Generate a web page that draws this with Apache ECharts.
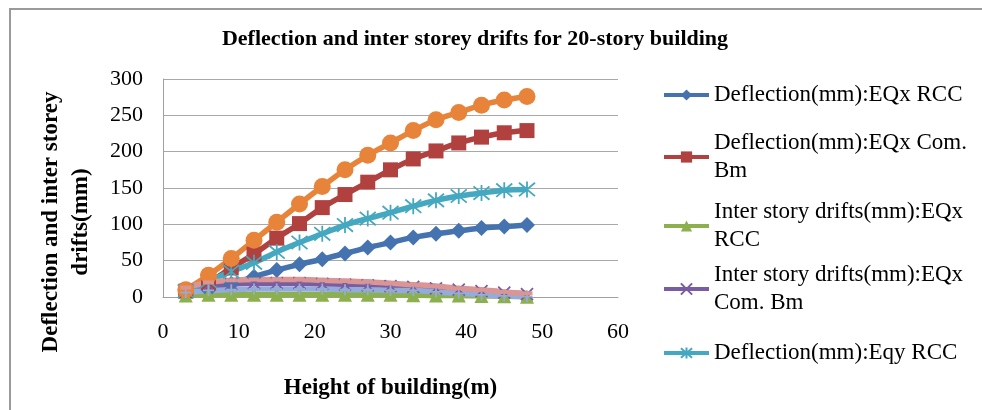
<!DOCTYPE html>
<html>
<head>
<meta charset="utf-8">
<script src="https://cdn.jsdelivr.net/npm/echarts@6/dist/echarts.min.js"></script>
<style>
  html, body { margin: 0; padding: 0; background: #fff; }
  #main { width: 982px; height: 410px; }
</style>
</head>
<body>
<div id="main"></div>
<script>
  // heights of storeys (m)
  var heights = [3, 6, 9, 12, 15, 18, 21, 24, 27, 30, 33, 36, 39, 42, 45, 48];
  var xTicks = [0, 10, 20, 30, 40, 50, 60];
  var yTicks = [0, 50, 100, 150, 200, 250, 300];

  var names = [
    'Deflection(mm):EQx RCC',
    'Deflection(mm):EQx Com. Bm',
    'Inter story drifts(mm):EQx RCC',
    'Inter story drifts(mm):EQx Com. Bm',
    'Deflection(mm):Eqy RCC',
    'Deflection(mm):Eqy Com. Bm',
    'Inter story drifts(mm):Eqy RCC',
    'Inter story drifts(mm):Eqy Com. Bm'
  ];
  // legend labels as wrapped in the picture (only first five shown)
  var legendLabels = [
    'Deflection(mm):EQx RCC',
    'Deflection(mm):EQx Com.\nBm',
    'Inter story drifts(mm):EQx\nRCC',
    'Inter story drifts(mm):EQx\nCom. Bm',
    'Deflection(mm):Eqy RCC'
  ];

  var deflEQxRCC   = [4, 10, 18, 28, 37, 45, 52, 60, 68, 75, 82, 87, 91, 95, 97, 99];
  var deflEQxCom   = [8, 20, 40, 59, 81, 101, 123, 141, 158, 175, 190, 201, 212, 220, 226, 229];
  var driftEQxRCC  = [2, 3, 3, 3, 3, 3, 3, 3, 3, 3, 2.5, 2, 2, 1.5, 1, 0.5];
  var driftEQxCom  = [10, 16, 18, 19, 19, 19, 18, 17, 16, 15, 14, 12, 10, 8, 6, 4];
  var deflEqyRCC   = [8, 22, 35, 47, 62, 75, 87, 99, 108, 116, 125, 133, 139, 143, 147, 148];
  var deflEqyCom   = [10, 30, 53, 78, 103, 128, 152, 175, 195, 212, 229, 244, 254, 264, 271, 276];
  var driftEqyRCC  = [6, 9, 10, 11, 11, 11, 11, 10, 10, 9, 9, 7, 5, 3, 1.5, 0.5];
  var driftEqyCom  = [13, 20, 23, 24, 24, 24, 23, 22, 21, 19, 17, 15, 12, 10, 7, 5];

  var values = [deflEQxRCC, deflEQxCom, driftEQxRCC, driftEQxCom, deflEqyRCC, deflEqyCom, driftEqyRCC, driftEqyCom];
  var colors = ['#4473B0', '#B0413E', '#8DB04E', '#7A5DA0', '#44A8C0', '#E8843A', '#93ACD9', '#D99694'];

  var symX = 'path://M0,0 L10,10 M10,0 L0,10';
  var symStar = 'path://M0,0 L10,10 M10,0 L0,10 M5,-1 L5,11';
  var symPlus = 'path://M5,0 L5,10 M0,5 L10,5';

  var symbols = ['diamond', 'rect', 'triangle', symX, symStar, 'circle', symPlus, 'rect'];
  var symbolSizes = [16, 15, 14, 12, 16, 17, 11, [11, 4]];
  var stroked = [false, false, false, true, true, false, true, false];

  var FONT = '"Liberation Serif", "Times New Roman", serif';

  function pairs(arr) {
    return heights.map(function (h, i) { return [h, arr[i]]; });
  }

  var series = [];
  for (var i = 0; i < names.length; i++) {
    series.push({
      name: names[i],
      type: 'line',
      data: pairs(values[i]),
      smooth: 0.3,
      symbol: symbols[i],
      symbolSize: symbolSizes[i],
      showSymbol: true,
      lineStyle: { width: 5.5, color: colors[i] },
      itemStyle: stroked[i]
        ? { color: colors[i], borderColor: colors[i], borderWidth: 1.8 }
        : { color: colors[i] },
      emphasis: { disabled: true },
      animation: false
    });
  }

  // one legend per item so the wrapped labels sit like in the picture
  var legendCenters = [95, 157, 226, 289, 353];
  var legends = [];
  for (var k = 0; k < 5; k++) {
    var twoLines = legendLabels[k].indexOf('\n') >= 0;
    legends.push({
      data: [names[k]],
      left: 662,
      top: legendCenters[k] - (twoLines ? 42 : 14),
      padding: 0,
      itemWidth: 45,
      itemHeight: 14,
      selectedMode: false,
      lineStyle: { width: 4 },
      formatter: (function (lbl) { return function () { return lbl; }; })(legendLabels[k]),
      textStyle: {
        fontFamily: FONT,
        fontSize: 23,
        color: '#000',
        lineHeight: 28,
        padding: twoLines ? [28, 0, 0, 0] : 0
      }
    });
  }

  var chart = echarts.init(document.getElementById('main'));
  chart.setOption({
    backgroundColor: '#fff',
    animation: false,
    title: {
      text: 'Deflection and inter storey drifts for 20-story building',
      left: 470,
      textAlign: 'center',
      top: 23,
      textStyle: { fontFamily: FONT, fontWeight: 'bold', fontSize: 22, color: '#000' }
    },
    legend: legends,
    grid: { left: 163, right: 364, top: 79, bottom: 113 },
    xAxis: {
      type: 'value',
      min: xTicks[0],
      max: xTicks[xTicks.length - 1],
      interval: 10,
      name: 'Height of building(m)',
      nameLocation: 'middle',
      nameGap: 80,
      nameTextStyle: { fontFamily: FONT, fontWeight: 'bold', fontSize: 23, color: '#000' },
      axisLine: { lineStyle: { color: '#A0A0A0', width: 1 } },
      axisTick: { show: false },
      splitLine: { show: false },
      axisLabel: { fontFamily: FONT, fontSize: 22, color: '#000', margin: 24 }
    },
    yAxis: {
      type: 'value',
      min: yTicks[0],
      max: yTicks[yTicks.length - 1],
      interval: 50,
      axisLine: { show: true, lineStyle: { color: '#A0A0A0', width: 1 } },
      axisTick: { show: false },
      splitLine: { lineStyle: { color: '#A8A8A8', width: 1 } },
      axisLabel: { fontFamily: FONT, fontSize: 22, color: '#000', margin: 20 }
    },
    graphic: [
      {
        type: 'rect',
        shape: { x: 10, y: 9, width: 1000, height: 420 },
        style: { fill: null, stroke: '#9A9A9A', lineWidth: 2 },
        silent: true,
        z: -1
      },
      {
        type: 'text',
        x: 66,
        y: 222,
        rotation: Math.PI / 2,
        style: {
          text: 'Deflection and inter storey\ndrifts(mm)',
          fontFamily: FONT,
          fontWeight: 'bold',
          fontSize: 23,
          lineHeight: 30,
          fill: '#000',
          textAlign: 'center',
          textVerticalAlign: 'middle'
        }
      }
    ],
    series: series
  });
</script>
</body>
</html>
